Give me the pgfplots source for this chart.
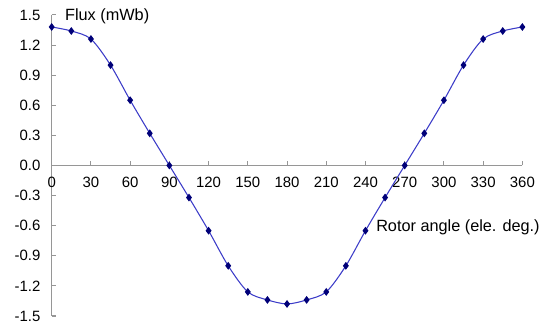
\documentclass[border=0pt]{standalone}
\usepackage{fontspec}
\setmainfont{Liberation Sans}
\usepackage{pgfplots}
\pgfplotsset{compat=1.18}
\definecolor{axgray}{RGB}{150,150,150}
\definecolor{linecol}{RGB}{60,60,200}
\definecolor{markcol}{RGB}{0,0,120}
\begin{document}
\begin{tikzpicture}
\begin{axis}[
  scale only axis, width=352.95pt, height=225.75pt,
  xmin=0, xmax=360, ymin=-1.5, ymax=1.5,
  axis x line=middle, axis y line=left,
  axis line style={axgray, line width=0.8pt, -},
  xtick={0,30,60,90,120,150,180,210,240,270,300,330,360},
  xticklabels={0,30,60,90,120,150,180,210,240,270,300,330,360},
  ytick={-1.5,-1.2,-0.9,-0.6,-0.3,0,0.3,0.6,0.9,1.2,1.5},
  yticklabels={-1.5,-1.2,-0.9,-0.6,-0.3,0.0,0.3,0.6,0.9,1.2,1.5},
  tick align=inside,
  major tick length=3pt,
  tick style={axgray, line width=0.8pt},
  xticklabel style={font=\fontsize{11.2}{13}\selectfont, yshift=-5pt, black},
  yticklabel style={font=\fontsize{11.2}{13}\selectfont, xshift=-5pt, black},
  hide obscured x ticks=false, hide obscured y ticks=false,
  clip=false,
]
\path (axis cs:-39.55,1.649) rectangle (axis cs:373.5,-1.599);
\addplot[linecol, line width=0.8pt, smooth, tension=0.5, mark=diamond*, mark size=2.3pt,
  mark options={markcol, fill=markcol, solid}] coordinates {
(0,1.38) (15,1.34) (30,1.26) (45,1.00) (60,0.65) (75,0.32) (90,0)
(105,-0.32) (120,-0.65) (135,-1.00) (150,-1.26) (165,-1.34) (180,-1.38)
(195,-1.34) (210,-1.26) (225,-1.00) (240,-0.65) (255,-0.32) (270,0)
(285,0.32) (300,0.65) (315,1.00) (330,1.26) (345,1.34) (360,1.38)
};
\node[anchor=west, inner sep=0pt, font=\fontsize{12.2}{14}\selectfont] at (rel axis cs:0.689,0.296) {Rotor angle (ele. deg.)};
\node[anchor=west, inner sep=0pt, font=\fontsize{12.2}{14}\selectfont] at (rel axis cs:0.028,0.997) {Flux (mWb)};
\end{axis}
\end{tikzpicture}
\end{document}
